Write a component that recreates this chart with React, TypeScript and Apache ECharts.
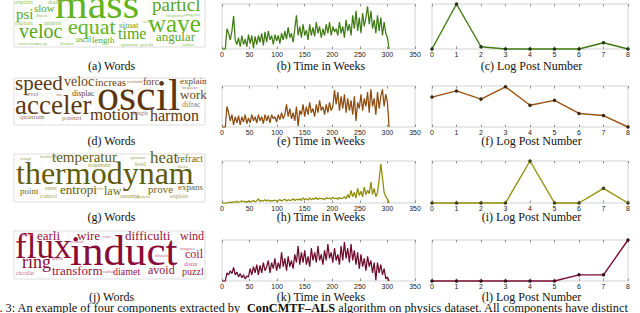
import React, { useEffect, useRef } from "react";
import * as echarts from "echarts";

// ---------- data ----------
const WEEK_STEP = 3;
const weeklyB = [
  0, 0, 0, 0.45, 0.35, 0.2, 0.4, 0.73, 0.2, 0.1,
  0.25, 0.05, 0.3, 0.1, 0.22, 0.05, 0.32, 0.12, 0.3, 0.02,
  0.28, 0.1, 0.3, 0.15, 0.35, 0.08, 0.38, 0.15, 0.4, 0.2,
  0.3, 0.1, 0.32, 0.18, 0.3, 0.12, 0.35, 0.2, 0.4, 0.22,
  0.48, 0.25, 0.35, 0.15, 0.45, 0.75, 0.3, 0.5, 0.25, 0.55,
  0.3, 0.42, 0.2, 0.55, 0.3, 0.48, 0.28, 0.6, 0.35, 0.5,
  0.25, 0.45, 0.3, 0.55, 0.35, 0.6, 0.3, 0.5, 0.38, 0.45,
  0.3, 0.6, 0.35, 0.5, 0.25, 0.65, 0.4, 0.55, 0.3, 0.75,
  0.45, 0.85, 0.4, 0.7, 0.35, 0.8, 0.5, 0.7, 0.95, 0.55,
  0.85, 0.45, 0.65, 0.35, 0.75, 0.4, 0.7, 0.3, 0.6, 0.35,
  0.25, 0,
];
const weeklyE = [
  0, 0, 0, 0.5, 0.35, 0.15, 0.3, 0.05, 0.25, 0.1,
  0.28, 0.05, 0.25, 0.12, 0.3, 0.08, 0.22, 0.1, 0.3, 0.15,
  0.25, 0.1, 0.3, 0.15, 0.25, 0.08, 0.3, 0.15, 0.28, 0.1,
  0.3, 0.2, 0.25, 0.12, 0.3, 0.18, 0.35, 0.2, 0.3, 0.55,
  0.25, 0.45, 0.2, 0.35, 0.15, 0.5, 0.02, 0.4, 0.3, 0.55,
  0.25, 0.5, 0.3, 0.6, 0.35, 0.45, 0.25, 0.55, 0.35, 0.65,
  0.4, 0.5, 0.3, 0.55, 0.35, 0.6, 0.4, 0.5, 0.9, 0.55,
  0.85, 0.4, 0.75, 0.45, 0.8, 0.35, 0.7, 0.4, 0.65, 0.3,
  0.75, 0.15, 0.6, 0.45, 0.8, 0.4, 0.7, 0.5, 0.85, 0.35,
  0.92, 0.5, 0.7, 0.3, 0.85, 0.45, 0.75, 0.92, 0.5, 0.8,
  0.6, 0,
];
const weeklyH = [
  0, 0, 0, 0, 0.01, 0.02, 0.01, 0.03, 0.02, 0.04,
  0.02, 0.03, 0.05, 0.03, 0.04, 0.02, 0.05, 0.03, 0.04, 0.06,
  0.03, 0.05, 0.1, 0.04, 0.06, 0.05, 0.08, 0.05, 0.07, 0.04,
  0.06, 0.05, 0.07, 0.04, 0.06, 0.08, 0.05, 0.07, 0.09, 0.05,
  0.08, 0.06, 0.07, 0.1, 0.06, 0.09, 0.07, 0.1, 0.06, 0.12,
  0.08, 0.1, 0.07, 0.12, 0.08, 0.11, 0.09, 0.13, 0.08, 0.12,
  0.1, 0.11, 0.08, 0.13, 0.1, 0.12, 0.09, 0.14, 0.1, 0.12,
  0.09, 0.13, 0.1, 0.12, 0.15, 0.1, 0.2, 0.12, 0.3, 0.15,
  0.25, 0.12, 0.35, 0.18, 0.28, 0.15, 0.38, 0.2, 0.3, 0.22,
  0.5, 0.2, 0.35, 0.15, 0.25, 0.55, 0.93, 0.6, 0.25, 0.15,
  0.1, 0,
];
const weeklyK = [
  0, 0, 0, 0.2, 0.15, 0.25, 0.18, 0.33, 0.15, 0.22,
  0.1, 0.18, 0.08, 0.15, 0.05, 0.12, 0.1, 0.3, 0.15, 0.35,
  0.2, 0.4, 0.15, 0.38, 0.2, 0.45, 0.25, 0.35, 0.5, 0.2,
  0.45, 0.3, 0.55, 0.25, 0.45, 0.3, 0.7, 0.35, 0.55, 0.25,
  0.6, 0.35, 0.5, 0.3, 0.65, 0.45, 0.85, 0.4, 0.7, 0.45,
  0.75, 0.4, 0.6, 0.35, 0.8, 0.5, 0.7, 0.45, 0.85, 0.5,
  0.65, 0.4, 0.75, 0.5, 0.9, 0.55, 0.7, 0.45, 0.8, 0.5,
  0.65, 0.4, 0.85, 0.5, 0.95, 0.55, 0.8, 0.45, 0.9, 0.5,
  0.75, 0.4, 0.7, 0.3, 0.65, 0.35, 0.55, 0.25, 0.6, 0.35,
  0.5, 0.2, 0.45, 0.02, 0.45, 0.2, 0.4, 0.15, 0.3, 0.05,
  0.1, 0,
];

const logPosts = [0, 1, 2, 3, 4, 5, 6, 7, 8];
const logC = [0, 1, 0.05, 0, 0, 0, 0, 0.14, 0];
const logF = [0.73, 0.88, 0.68, 0.98, 0.53, 0.65, 0.33, 0.28, 0];
const logI = [0, 0, 0, 0, 1, 0, 0, 0.35, 0];
const logL = [0, 0, 0, 0, 0, 0, 0.15, 0.15, 1];

const wordsA = ["mass", "wave", "particl", "veloc", "equat", "time", "psi", "slow", "angular", "length", "situat", "oscil", "explain", "explain", "underst", "doubl", "direct", "frequenc", "tangenti", "accel", "momentum", "energi", "quantum", "graviti", "radius", "distanc"];
const wordsD = ["oscil", "acceler", "speed", "veloc", "increas", "forc", "motion", "harmon", "work", "explain", "displac", "level", "quantum", "potenti", "length", "difrac", "frequenc", "sin", "coulomb"];
const wordsG = ["thermodynam", "temperatur", "heat", "refract", "entropi", "law", "prove", "expans", "point", "statement", "hold", "enter", "control", "assumpt", "explain", "theta", "coupl", "spontan", "isotherm", "cyclic", "system"];
const wordsJ = ["induct", "flux", "earli", "wire", "difficulti", "wind", "coil", "ring", "transform", "diamet", "avoid", "puzzl", "circular", "extend", "distur", "quick", "vari", "central", "dissolv", "magnet", "radius"];

const captionsTime = ["(b) Time in Weeks", "(e) Time in Weeks", "(h) Time in Weeks", "(k) Time in Weeks"];
const captionsLog = ["(c) Log Post Number", "(f) Log Post Number", "(i) Log Post Number", "(l) Log Post Number"];
const captionsWords = ["(a) Words", "(d) Words", "(g) Words", "(j) Words"];
const figureCaption = ["Fig. 3: An example of four components extracted by ", "ConCMTF–ALS", " algorithm on physics dataset. All components have distinct"];

// ---------- layout / style ----------
// [x, baseline, fontSize, tone]
const layoutA = [
  [55, 18, 42, 0], [148, 32, 25, 0], [152, 11, 19, 1], [19, 38, 20, 1], [68, 34, 22, 0],
  [118, 39, 16, 1], [16, 19, 15, 1], [34, 11.5, 11, 1], [156, 41, 13, 1], [92, 43, 9, 1],
  [119, 28, 9, 1], [76, 42, 8, 1], [15, 4, 6, 2], [15, 25, 6, 2], [44, 25, 6, 2],
  [48, 4, 6, 2], [36, 17, 5, 2], [166, 17, 5, 2], [184, 16, 5, 2], [143, 23, 5, 2],
  [18, 45.5, 4.5, 2], [36, 45.5, 4.5, 2], [121, 46, 5, 2], [140, 46, 5, 2], [182, 46, 5, 2], [60, 45.5, 5, 2],
];
const layoutD = [
  [97, 110.5, 44, 0], [15, 114, 27, 0], [15, 90, 21, 0], [64, 86, 14, 1], [95, 86, 11, 1],
  [143, 85, 10, 1], [90, 120.5, 17, 0], [150, 120.5, 16, 0], [180, 99, 13, 1], [180, 84, 9, 1],
  [72, 96.5, 8, 1], [25, 96.5, 7, 2], [20, 119, 7, 2], [62, 120.5, 7, 2], [133, 115, 6, 2],
  [182, 107, 8, 2], [182, 89, 4.5, 2], [56, 96, 5, 2], [127, 83, 4.5, 2],
];
const layoutG = [
  [16, 184, 32, 0], [52, 162, 15, 0], [150, 163, 17, 0], [177, 162, 10, 1], [60, 194, 13, 0],
  [104, 195, 12, 1], [148, 193, 11, 1], [178, 190, 9, 1], [20, 194, 9, 1], [88, 167, 6, 2],
  [135, 166, 6, 2], [45, 190, 6, 2], [40, 198, 6, 2], [120, 198, 6, 2], [170, 198, 6, 2],
  [178, 168, 5, 2], [20, 160, 5, 2], [130, 159, 5, 2], [40, 158, 5, 2], [92, 190, 5, 2], [136, 198, 5, 2],
];
const layoutJ = [
  [70, 265, 43, 0], [15, 258, 35, 0], [37, 240, 13, 1], [77, 240, 13, 1], [125, 240, 13, 1],
  [180, 240, 12, 1], [185, 258.5, 12, 1], [22, 268.5, 18, 0], [52, 274.5, 13, 1], [113, 274.5, 10, 1],
  [148, 274.5, 12, 1], [182, 274.5, 10, 1], [16, 275, 6, 2], [20, 236, 5, 2], [184, 266, 6, 2],
  [52, 260, 5, 2], [103, 238, 5, 2], [70, 243, 5, 2], [155, 257, 5, 2], [180, 250, 5, 2], [103, 273, 5, 2],
];

const SERIF = '"Liberation Serif", "DejaVu Serif", serif';
const SANS = '"Liberation Sans", Arial, sans-serif';

const rowTops = [4, 86, 161, 240];
const rowHeights = [45, 41, 42, 41];
const captionY = [66, 140.7, 216.5, 297];
const cloudBoxes = [[14, -2, 191, 49], [14, 78, 191, 47], [14, 154, 191, 48], [14, 231, 191, 48]];

const timeColors = ["#3f7a12", "#8d4c0e", "#8f8b00", "#6f0b2a"];
const markColors = ["#26331a", "#3a2715", "#44421a", "#3a1520"];
const logColors = ["#3f7a12", "#9a5412", "#948f06", "#7a0b2d"];
const palettes = [
  ["#62b31c", "#58a61a", "#8cc65e"],
  ["#5c3712", "#6e4419", "#9c7a55"],
  ["#5f5b0c", "#6e6a16", "#a39f58"],
  ["#8a0b36", "#95153f", "#c3668a"],
];

const weeklyAll = [weeklyB, weeklyE, weeklyH, weeklyK];
const logAll = [logC, logF, logI, logL];
const wordsAll = [wordsA, wordsD, wordsG, wordsJ];
const layoutsAll = [layoutA, layoutD, layoutG, layoutJ];

function buildOption() {
  const grid: any[] = [];
  const xAxis: any[] = [];
  const yAxis: any[] = [];
  const series: any[] = [];
  const tick = { show: true, inside: true, length: 2.5, lineStyle: { color: "#777", width: 0.8 } };
  const label = { fontSize: 7, fontFamily: SANS, color: "#222", margin: 2, showMinLabel: true, showMaxLabel: true };

  for (let r = 0; r < 4; r++) {
    grid.push({ left: 222, width: 193, top: rowTops[r], height: rowHeights[r], show: true, borderColor: "#c6c6c6", borderWidth: 0.8, containLabel: false });
    grid.push({ left: 432, width: 196, top: rowTops[r], height: rowHeights[r], show: true, borderColor: "#c6c6c6", borderWidth: 0.8, containLabel: false });
    for (let k = 0; k < 2; k++) {
      const gi = 2 * r + k;
      const range = k === 0 ? { min: 0, max: 350, interval: 50 } : { min: 0, max: 8, interval: 1 };
      xAxis.push({ type: "value", gridIndex: gi, position: "bottom", ...range, axisLine: { show: false }, axisTick: tick, axisLabel: label, splitLine: { show: false } });
      xAxis.push({ type: "value", gridIndex: gi, position: "top", ...range, axisLine: { show: false }, axisTick: tick, axisLabel: { show: false }, splitLine: { show: false } });
      yAxis.push({ type: "value", gridIndex: gi, min: 0, max: 1, show: true, axisLine: { show: false }, axisTick: { show: false }, axisLabel: { show: false }, splitLine: { show: false } });
    }
    series.push({
      type: "line", xAxisIndex: 4 * r, yAxisIndex: 2 * r, showSymbol: false, symbol: "none",
      data: weeklyAll[r].map((v, i) => [i * WEEK_STEP, v]),
      lineStyle: { color: timeColors[r], width: 1.25 }, silent: true, clip: true,
    });
    series.push({
      type: "line", xAxisIndex: 4 * r + 2, yAxisIndex: 2 * r + 1, symbol: "circle", symbolSize: 3.5,
      data: logAll[r].map((v, i) => [logPosts[i], v]),
      lineStyle: { color: logColors[r], width: 1.4 }, itemStyle: { color: markColors[r] }, silent: true, clip: false,
    });
  }

  const elements: any[] = [];
  for (let r = 0; r < 4; r++) {
    const [bx, by, bw, bh] = cloudBoxes[r];
    elements.push({ type: "rect", shape: { x: bx, y: by, width: bw, height: bh }, style: { fill: "#ffffff", stroke: "#d4d4d4", lineWidth: 0.8 }, z: 1 });
    for (let v = 1; v < 7; v++) {
      const lx = bx + v * 27.3;
      elements.push({ type: "line", shape: { x1: lx, y1: by, x2: lx, y2: by + bh }, style: { stroke: "#efefef", lineWidth: 0.6 }, z: 2 });
    }
    const words = wordsAll[r];
    const lay = layoutsAll[r];
    words.forEach((w, i) => {
      const [x, base, size, tone] = lay[i];
      elements.push({
        type: "text", x, y: base - size * 0.34, z: 5,
        style: { text: w, fontSize: size, fontFamily: SERIF, fill: palettes[r][tone], align: "left", verticalAlign: "middle" },
      });
    });
    const cap = (text: string, cx: number) => ({
      type: "text", x: cx, y: captionY[r], z: 5,
      style: { text, fontSize: 12, fontFamily: SERIF, fill: "#111", align: "center", verticalAlign: "middle" },
    });
    elements.push(cap(captionsWords[r], 111.5));
    elements.push(cap(captionsTime[r], 321));
    elements.push(cap(captionsLog[r], 531.5));
  }
  elements.push({
    type: "text", x: -17, y: 307.5, z: 5,
    style: {
      text: figureCaption[0] + " {b|" + figureCaption[1] + "}" + figureCaption[2],
      fontSize: 12.3, fontFamily: SERIF, fill: "#111", align: "left", verticalAlign: "middle",
      rich: { b: { fontSize: 12.3, fontFamily: SERIF, fontWeight: "bold", fill: "#111" } },
    },
  });

  return {
    animation: false,
    backgroundColor: "#ffffff",
    grid, xAxis, yAxis, series,
    graphic: { elements },
  };
}

export default function App() {
  const ref = useRef<HTMLDivElement>(null);
  useEffect(() => {
    document.body.style.margin = "0";
    if (!ref.current) return;
    const chart = echarts.init(ref.current, undefined, { renderer: "svg" });
    chart.setOption(buildOption() as any);
    return () => chart.dispose();
  }, []);
  return <div ref={ref} style={{ width: 640, height: 313, position: "absolute", left: 0, top: 0 }} />;
}
